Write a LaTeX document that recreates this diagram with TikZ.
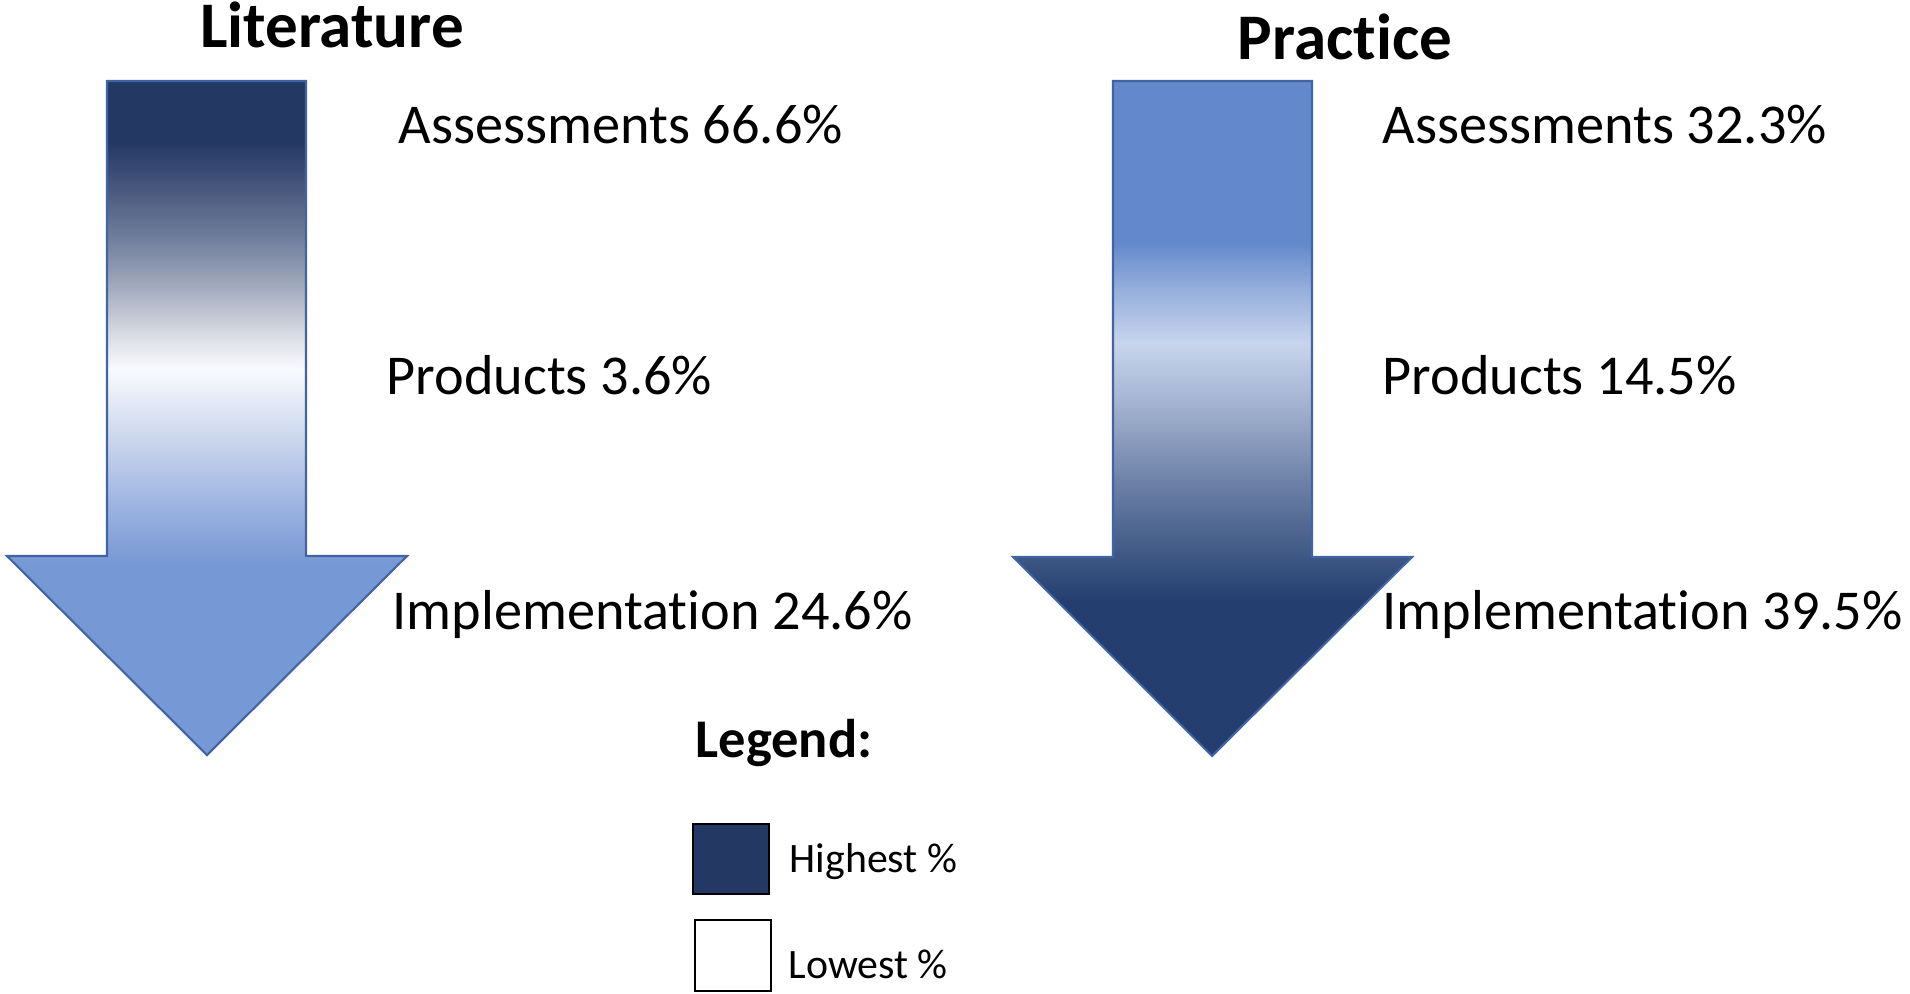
\documentclass[tikz,border=0pt]{standalone}
\usepackage{fontspec}
\setmainfont{Carlito}[Ligatures={TeX,NoCommon}]
\usetikzlibrary{positioning}

\definecolor{navy}{RGB}{35,57,100}
\definecolor{edgeblue}{RGB}{66,100,164}
% literature gradient
\definecolor{litA}{RGB}{118,152,212}
\definecolor{litB}{RGB}{160,182,226}
\definecolor{litC}{RGB}{200,212,236}
\definecolor{litD}{RGB}{248,250,253}
\definecolor{litE}{RGB}{215,218,226}
\definecolor{litF}{RGB}{150,160,182}
\definecolor{litG}{RGB}{108,123,155}
\definecolor{litH}{RGB}{72,88,125}
% practice gradient
\definecolor{praA}{RGB}{36,62,111}
\definecolor{praB}{RGB}{65,90,135}
\definecolor{praC}{RGB}{110,130,168}
\definecolor{praD}{RGB}{165,180,210}
\definecolor{praE}{RGB}{199,213,236}
\definecolor{praF}{RGB}{150,175,220}
\definecolor{praG}{RGB}{99,137,204}

\pgfdeclareverticalshading{litgrad}{100bp}{color(0bp)=(litA); color(39.2bp)=(litA);
  color(43.9bp)=(litB); color(48.1bp)=(litC); color(53.6bp)=(litD); color(56.3bp)=(litE);
  color(60.5bp)=(litF); color(63.7bp)=(litG); color(67.1bp)=(litH); color(70.4bp)=(navy);
  color(100bp)=(navy)}
\pgfdeclareverticalshading{pragrad}{100bp}{color(0bp)=(praA); color(36.5bp)=(praA);
  color(40.2bp)=(praB); color(45.4bp)=(praC); color(51.3bp)=(praD); color(55.6bp)=(praE);
  color(59.5bp)=(praF); color(63bp)=(praG); color(100bp)=(praG)}

\tikzset{
  bigarrow/.style={draw=edgeblue, line width=0.6pt, line join=miter},
  label/.style={anchor=base west, inner sep=0pt, font=\fontsize{16}{19}\selectfont},
  title/.style={anchor=base, inner sep=0pt, font=\fontsize{18.5}{22}\selectfont\bfseries},
  keybox/.style={draw=black, line width=0.7pt},
  keytext/.style={anchor=base west, inner sep=0pt, font=\fontsize{11.9}{14}\selectfont}
}

\begin{document}
\begin{tikzpicture}[x=0.01cm, y=-0.01cm]
    \useasboundingbox (0,0) rectangle (1910,993);

    % literature arrow
    \shadedraw[bigarrow, shading=litgrad] (107,81) coordinate (l1)
        -- (306,81) -- (306,556) -- (407,556) -- (207,755) coordinate (ltip)
        -- (7,556) -- (107,556) -- cycle;
    \node[title] (littitle) at (332,47) {Literature};
    \node[label] (litass) at (398,143) {Assessments 66.6\%};
    \node[label] (litprod) at (386,394) {Products 3.6\%};
    \node[label] (litimpl) at (392,629) {Implementation 24.6\%};

    % practice arrow
    \shadedraw[bigarrow, shading=pragrad] (1113,81) coordinate (p1)
        -- (1312,81) -- (1312,557) -- (1412,557) -- (1212,756) coordinate (ptip)
        -- (1013,557) -- (1113,557) -- cycle;
    \node[title] (pratitle) at (1345,59) {Practice};
    \node[label] (praass) at (1382,143) {Assessments 32.3\%};
    \node[label] (praprod) at (1382,394) {Products 14.5\%};
    \node[label] (praimpl) at (1382,629) {Implementation 39.5\%};

    % legend
    \node[anchor=base west, inner sep=0pt, font=\fontsize{15.5}{18}\selectfont\bfseries] (legend) at (695,757) {Legend:};
    \draw[keybox, fill=navy] (693,824) rectangle (769,894);
    \node[keytext] (high) at (789,872) {Highest \%};
    \draw[keybox, fill=white] (695,920) rectangle (771,991);
    \node[keytext] (low) at (788,978) {Lowest \%};
\end{tikzpicture}
\end{document}
